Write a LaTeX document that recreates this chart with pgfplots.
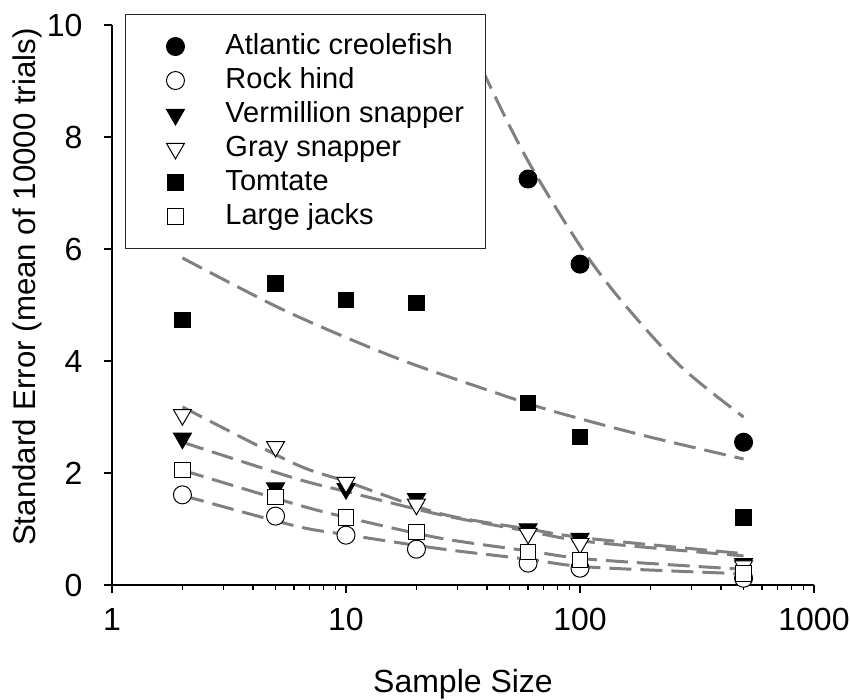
\documentclass[border=0pt]{standalone}
\usepackage{fontspec}
\setmainfont{Liberation Sans}
\usepackage{pgfplots}
\pgfplotsset{compat=1.18}
\definecolor{fitgray}{HTML}{808080}

\pgfplotsset{
  fit/.style={fitgray, line width=1.2pt, dash pattern=on 8.8pt off 3.6pt,
    smooth, no marks, forget plot},
  pts/.style={only marks, mark options={line width=0.5pt, draw=black},
    legend image code/.code={%
      \pgfpathrectangle{\pgfpoint{0pt}{-3pt}}{\pgfpoint{31.6pt}{6pt}}%
      \pgfusepath{discard}%
      \draw[##1] plot coordinates {(15pt,0pt)};}},
}

\begin{document}
\begin{tikzpicture}
\begin{axis}[
  at={(0,0)}, anchor=south west,
  scale only axis, width=280.8pt, height=224pt,
  xmode=log, xmin=1, xmax=1000, ymin=0, ymax=10,
  axis lines=left, axis line style={-, line width=0.6pt},
  tick align=outside, tick style={black, line width=0.6pt},
  major tick length=3.2pt, minor tick length=1.8pt,
  xtick={1,10,100,1000}, xticklabels={1,10,100,1000},
  minor xtick={2,3,4,5,6,7,8,9,20,30,40,50,60,70,80,90,200,300,400,500,600,700,800,900},
  ytick={0,2,4,6,8,10}, minor ytick={},
  /pgf/number format/assume math mode=true,
  tick label style={font=\fontsize{12.8}{15}\selectfont},
  xticklabel style={anchor=base, inner sep=0pt, yshift=-14.8pt},
  yticklabel style={anchor=east, inner sep=0pt, xshift=-8.4pt},
  xlabel={Sample Size},
  xlabel style={at={(axis description cs:0.5,-0.1911)}, anchor=base,
    inner sep=0pt, font=\fontsize{12.8}{15}\selectfont},
  ylabel={Standard Error (mean of 10000 trials)},
  ylabel style={at={(axis description cs:-0.1083,0.532)}, anchor=base,
    inner sep=0pt, font=\fontsize{12.5}{15}\selectfont},
  legend cell align=left,
  legend style={at={(0.0185,1.0196)}, anchor=north west,
    draw=black!85, line width=0.4pt, fill=white,
    font=\fontsize{11.6}{13.6}\selectfont,
    inner xsep=5pt, inner ysep=6pt,
    nodes={inner xsep=3.4pt, inner ysep=1.3pt, text height=8.6pt, text depth=2.4pt}},
]
% fitted curves
\addplot[fit] coordinates {(30,10.24) (40,9.03) (60,7.57) (100,6.06) (150,5.08) (270,3.9) (500,3.0)};
\addplot[fit] coordinates {(2,5.84) (5,4.98) (10,4.42) (20,3.92) (60,3.24) (100,2.97) (200,2.64) (500,2.25)};
\addplot[fit] coordinates {(2,3.18) (6,2.17) (10,1.85) (25,1.28) (60,1.0) (110,0.83) (500,0.56)};
\addplot[fit] coordinates {(2,2.55) (6,1.91) (10,1.67) (25,1.26) (60,0.96) (110,0.77) (500,0.52)};
\addplot[fit] coordinates {(2,2.05) (6,1.45) (10,1.21) (25,0.84) (60,0.61) (110,0.46) (500,0.28)};
\addplot[fit] coordinates {(2,1.6) (6,1.06) (10,0.9) (25,0.65) (60,0.46) (110,0.32) (500,0.2)};
% observed points
\addplot[pts, mark=*, mark size=3.6pt, mark options={fill=black}]
  coordinates {(60,7.25) (100,5.73) (500,2.55)};
\addlegendentry{Atlantic creolefish}
\addplot[pts, mark=*, mark size=3.6pt, mark options={fill=white}]
  coordinates {(2,1.61) (5,1.23) (10,0.89) (20,0.64) (60,0.39) (100,0.30) (500,0.12)};
\addlegendentry{Rock hind}
\addplot[pts, mark=triangle*, mark size=4.15pt, mark options={fill=black, rotate=180}]
  coordinates {(2,2.62) (5,1.73) (10,1.72) (20,1.54) (60,1.00) (100,0.83) (500,0.38)};
\addlegendentry{Vermillion snapper}
\addplot[pts, mark=triangle*, mark size=4.15pt, mark options={fill=white, rotate=180}]
  coordinates {(2,3.04) (5,2.47) (10,1.83) (20,1.44) (60,0.92) (100,0.74) (500,0.34)};
\addlegendentry{Gray snapper}
\addplot[pts, mark=square*, mark size=3.1pt, mark options={fill=black}]
  coordinates {(2,4.73) (5,5.38) (10,5.09) (20,5.04) (60,3.25) (100,2.64) (500,1.21)};
\addlegendentry{Tomtate}
\addplot[pts, mark=square*, mark size=3.1pt, mark options={fill=white}]
  coordinates {(2,2.05) (5,1.57) (10,1.21) (20,0.95) (60,0.59) (100,0.45) (500,0.21)};
\addlegendentry{Large jacks}
\end{axis}
\pgfresetboundingbox
\path (-44.8pt,-45.6pt) rectangle (295.2pt,234pt);
\end{tikzpicture}
\end{document}
